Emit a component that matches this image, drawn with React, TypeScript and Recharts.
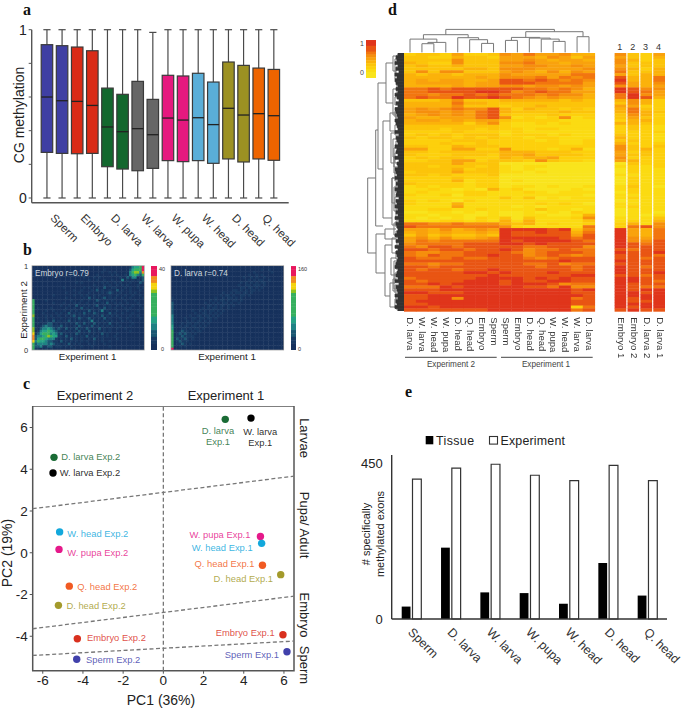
import {
  Bar,
  BarChart,
  ComposedChart,
  ReferenceArea,
  ReferenceLine,
  Scatter,
  ScatterChart,
  XAxis,
  YAxis,
} from "recharts";

// panel a
const boxTissues = ["Sperm", "Embryo", "D. larva", "W. larva", "W. pupa", "W. head", "D. head", "Q. head"];
const boxQ3 = [0.911, 0.905, 0.897, 0.875, 0.653, 0.616, 0.693, 0.586, 0.729, 0.725, 0.741, 0.689, 0.808, 0.788, 0.772, 0.764];
const boxMedian = [0.6, 0.578, 0.574, 0.55, 0.422, 0.394, 0.412, 0.376, 0.475, 0.463, 0.477, 0.436, 0.533, 0.493, 0.501, 0.489];
const boxQ1 = [0.271, 0.265, 0.263, 0.265, 0.186, 0.172, 0.162, 0.176, 0.222, 0.216, 0.222, 0.206, 0.232, 0.214, 0.232, 0.224];
const boxHigh = [1, 1, 1, 1, 1, 1, 1, 0.984, 1, 1, 1, 1, 1, 1, 1, 1];
const boxLow = [0, 0, 0, 0, 0, 0, 0, 0, 0, 0, 0, 0, 0, 0, 0, 0];
const boxColors = ["#3f3fa3", "#d92b17", "#13682e", "#666666", "#e5197f", "#5aaed8", "#9c9122", "#ee6400"];

// panel b, digit = density level
const embryoGrid = [
  "00000000000 00000000000 00000000000 00000134459",
  "00000000000 00000000010 00000010000 00000245559",
  "00000000000 00000000000 00000100101 00000356638",
  "00000000000 00000100000 00010000010 10010345325",
  "00000000000 00000000010 00101000000 01002133012",
  "00000000000 00000000000 10010010010 00301010102",
  "00000000000 00000010100 00000101001 01000100021",
  "00000000000 00000000000 00100010100 10101000100",
  "00000000000 01000000010 10010020011 00010100101",
  "00000000000 00000100100 01020100100 20100100010",
  "00000000000 00100001000 10000101210 01000101000",
  "00000000100 00000100101 00101000100 10010010010",
  "00000000000 00100000010 20100120101 00100100001",
  "50000100000 00001000100 10021001010 00010001000",
  "50000000100 01000101001 00100102001 01001000100",
  "50000000000 10010020010 10120010100 10100010010",
  "50100001000 00100100201 01001020101 00010100001",
  "50000100100 01001010010 20101301000 10001000100",
  "50001000010 10020101020 10210100201 00100010000",
  "60000101001 00101201010 01010201010 10000100100",
  "50100100100 10010102101 20101020100 01001000010",
  "50010110201 01020101010 13010101010 00100100000",
  "50101122010 10101021020 10201010200 10000010000",
  "50012322111 20100102101 02010101010 01000100000",
  "61023343212 10201020102 10102010100 10010000000",
  "60134454321 01010102010 20101010100 00000100000",
  "71245553431 20101021010 10100201000 10000000000",
  "82334565441 10201010102 01010101001 00000000000",
  "82455433310 10102010100 10200100000 10000000000",
  "73544322110 20101010101 00100100100 00000000000",
  "52333323211 01020101000 10100010000 00000000000",
  "52231122011 10101000100 01000000100 00000000000",
  "51100101000 00000100000 00000000000 00000000000",
];
const larvaGrid = [
  "00000000000 00000000000 00000000000 00000000000",
  "00000000000 00000000000 00000000000 00100100000",
  "00000000000 00000000000 00000000001 00000010000",
  "00000000000 00000000000 00000000100 10100000000",
  "00000000000 00000000000 00000010010 10010000000",
  "00000000000 00000000000 00000000101 01100100000",
  "00000000000 00000000000 00000101010 10110000000",
  "00000000000 00000000000 00001001101 11010000000",
  "00000000000 00000000000 00000110110 10100000000",
  "00000000000 00000000000 00110101011 01000000000",
  "00000000000 00000000010 01011011010 00000000000",
  "00000000000 00000000101 10100110100 00000000000",
  "10000000000 00000010010 11010100000 00000000000",
  "10000000000 00001010110 10110100000 00000000000",
  "20000000000 00100101011 01001000000 00000000000",
  "20000000000 00011010110 10100000000 00000000000",
  "20000000000 01010110100 10000000000 00000000000",
  "20000000100 10101101010 00000000000 00000000000",
  "20000000010 01101010100 00000000000 00000000000",
  "30000001001 10110101000 00000000000 00000000000",
  "30000100110 11011010000 00000000000 00000000000",
  "30000010101 10101000000 00000000000 00000000000",
  "30001011011 01010000000 00000000000 00000000000",
  "40010110110 10100000000 00000000000 00000000000",
  "40001101011 01000000000 00000000000 00000000000",
  "50012110101 10000000000 00000000000 00000000000",
  "50121211010 00000000000 00000000000 00000000000",
  "50112111100 00000000000 00000000000 00000000000",
  "50211210100 00000000000 00000000000 00000000000",
  "50121110000 00000000000 00000000000 00000000000",
  "50112101000 00000000000 00000000000 00000000000",
  "50010100000 00000000000 00000000000 00000000000",
  "90000000000 00000000000 00000000000 00000000000",
];
const densityBar = ["9", "9", "9", "8", "8", "7", "7", "6", "5", "5", "5", "5", "5", "5", "5", "4", "4", "3", "3", "2", "2", "1", "1", "0", "0"];
const densityColors = ["#16315c", "#183a63", "#1b5873", "#1f8284", "#25a285", "#37b05f", "#8fc21f", "#f4d20c", "#f08a1e", "#e8175d"];

// panel c
const pcaNames = [
  "D. larva Exp.1", "W. larva Exp.1", "D. larva Exp.2", "W. larva Exp.2", "W. head Exp.2", "W. pupa Exp.2", "Q. head Exp.2", "D. head Exp.2",
  "Embryo Exp.2", "Sperm Exp.2", "W. pupa Exp.1", "W. head Exp.1", "Q. head Exp.1", "D. head Exp.1", "Embryo Exp.1", "Sperm Exp.1",
];
const pc1 = [3.08, 4.36, -5.44, -5.49, -5.16, -5.19, -4.68, -5.22, -4.28, -4.31, 4.83, 4.89, 4.93, 5.84, 5.95, 6.15];
const pc2 = [6.39, 6.45, 4.57, 3.82, 1.0, 0.16, -1.6, -2.52, -4.12, -5.1, 0.78, 0.45, -0.6, -1.05, -3.93, -4.74];
const pcaColors = ["#1a6b35", "#000000", "#1a6b35", "#000000", "#12a8dc", "#e5198a", "#f15a22", "#a39a2b", "#d9301e", "#4141ab", "#e5198a", "#12a8dc", "#f15a22", "#a39a2b", "#d9301e", "#4141ab"];
const stageLines = [
  [2.11, 3.67],
  [-3.64, -2.08],
  [-4.92, -4.23],
];

// panel d
const expColumns = ["D. larva", "W. larva", "W. head", "W. pupa", "D. head", "Q. head", "Embryo", "Sperm", "Sperm", "Embryo", "D. head", "Q. head", "W. pupa", "W. head", "W. larva", "D. larva"];
const sideColumns = ["Embryo 1", "Embryo 2", "D. larva 2", "D. larva 1"];
const methRows = [
  "2332522365755644", "3322433255546535", "3333633355654554", "4322633366755455", "3433433355665565", "3333344366655556",
  "3636633356546465", "4344344465555577", "4444445466675767", "4545544588787676", "4555545588877775", "4444545566566565",
  "7787888888776764", "7788889986787755", "7767787877767664", "7877988987656554", "3334633344444343", "4444744333333333",
  "4444633323343333", "5656766842433232", "5665657843333433", "4565657832223222", "5445557861212612", "4554545532222111",
  "4444424621121211", "3333333321111111", "3332332322122111", "2222322212111111", "2323233312221211", "3233232322122111",
  "2222333222212112", "2223223222222112", "3322433322222222", "5522552262221241", "3323333344433322", "3222333244533332",
  "2323322243445222", "2233552333263221", "3333533300000000", "3323332310110000", "3333423310100000", "2333533311010000",
  "3323222300000000", "2222322200000000", "2222412201000000", "3222212200000000", "1212212201101001", "1121010412000010",
  "1211122111210111", "2112022111111110", "1111111131301011", "2121021111111111", "2111411111121210", "1111511110101111",
  "1122112111131101", "0011010100101021", "1101100100110014", "1010102130311126", "1112212141411113", "7766766643412112",
  "8777777762111117", "5546456599998936", "4545445498898847", "3534334398888858", "5646445699999878", "5767777798999987",
  "6777788899898888", "7688788888778886", "8878878898677877", "7667788887678887", "7687788988678767", "8777877888767888",
  "8888888888888988", "7767788888778677", "8878888888878878", "8788788988888878", "8888899898889888", "8888888988888899",
  "7888889999898988", "8788899989889988", "8898999989998677", "7779899999887966", "8889999999999989", "9988899999999988",
  "8899999999999998", "8899699999999978", "8999999999999988", "8899999999999988", "9989999999999927", "8888888999999978",
];
const sideRows = [
  "6325", "5324", "6423", "6333", "5333", "6424", "7334", "5344", "8447", "9447", "8546", "6545", "9866", "9875", "7965",
  "7984", "4642", "3642", "5522", "4732", "4743", "3642", "3532", "2442", "4432", "2321", "2321", "2222", "3221", "4221",
  "3321", "4222", "6323", "6342", "5232", "5332", "6222", "5422", "0322", "1212", "0211", "0211", "1111", "0211", "0211",
  "0211", "1310", "1211", "0211", "1111", "1211", "0111", "1111", "1211", "0111", "0110", "0101", "1113", "1214", "2416",
  "2786", "9547", "9547", "9547", "9657", "9668", "9878", "9888", "8788", "9889", "8887", "8878", "9888", "8888", "9878",
  "9888", "9889", "8878", "9988", "9987", "9888", "9877", "9899", "9989", "9999", "9899", "9889", "9999", "9899", "8988",
];
const methScale = ["9", "9", "8", "8", "7", "6", "5", "4", "3", "2", "1", "0", "0"];
const methColors = ["#f9e41d", "#fbdb12", "#fdd00c", "#fcc40a", "#fbb20a", "#f9a20d", "#f68f0c", "#f2760f", "#e95513", "#e0351b"];

// dendrograms: [leaf pos 1, height 1, leaf pos 2, height 2, merge height]
const topTree = [
  [1.5, 0, 2.5, 0, 8.7], [2, 8.7, 3.5, 0, 10], [0.5, 0, 2.75, 10, 13.3], [6.5, 0, 7.5, 0, 9], [5.5, 0, 7, 9, 12.7],
  [4.5, 0, 6.25, 12.7, 14.7], [1.625, 13.3, 5.375, 14.7, 17.7], [8.5, 0, 9.5, 0, 12], [12.5, 0, 13.5, 0, 11], [11.5, 0, 13, 11, 13.3],
  [10.5, 0, 12.25, 13.3, 14.3], [9, 12, 11.375, 14.3, 15], [14.5, 0, 15.5, 0, 15.7], [10.2, 15, 15, 15.7, 20.7], [3.5, 17.7, 12.6, 20.7, 23],
];
const leftTree = [
  [125, 28.3, 200, 28, 36.3], [77, 26, 173, 21, 28.3], [30, 18, 116, 21, 26], [10, 11, 50, 11, 18], [3, 7, 18, 8, 11], [36, 7, 62, 8, 11],
  [68, 14, 165, 12, 21], [60, 9, 78, 9, 14], [125, 10, 172, 8, 12], [80, 9, 110, 10, 13], [125, 9, 150, 9, 12], [95, 7, 120, 7, 10],
  [2, 5, 8, 5, 7], [14, 5, 21, 5, 8], [32, 5, 40, 4, 7], [55, 5, 66, 5, 8], [58, 5, 64, 4, 9], [72, 5, 82, 4, 9], [88, 4, 96, 4, 8],
  [100, 5, 110, 5, 9], [104, 4, 114, 5, 10], [118, 5, 128, 4, 9], [132, 4, 140, 5, 8], [144, 5, 152, 4, 9], [156, 4, 164, 4, 8],
  [168, 4, 174, 4, 8], [178, 4, 184, 4, 8], [188, 5, 195, 4, 7], [198, 4, 206, 5, 8], [209, 4, 216, 4, 8], [220, 5, 228, 4, 9],
  [232, 4, 240, 5, 9], [243, 4, 250, 5, 8], [252, 4, 257, 4, 7], [181, 19, 220, 19, 28], [176, 8, 186, 8, 19], [192, 12, 243, 14, 19],
  [185, 7, 200, 7, 12], [230, 9, 254, 7, 14], [205, 8, 222, 8, 13], [226, 7, 238, 7, 11], [6, 6, 26, 6, 9], [44, 6, 52, 6, 9],
  [86, 6, 104, 6, 11], [134, 6, 158, 6, 10], [170, 6, 182, 6, 10], [208, 6, 236, 6, 10], [246, 6, 255, 6, 9],
];
const leafDepths = "687968597986869758698769876958769786957698796869785879686958767968596876789678695876968796";

// panel e
const exonTissues = ["Sperm", "D. larva", "W. larva", "W. pupa", "W. head", "D. head", "Q. head"];
const exonTissue = [35, 201, 75, 73, 43, 158, 66];
const exonExperiment = [394, 425, 436, 405, 390, 433, 390];

const labelOffsets: Record<string, [number, number, string]> = {
  "D. larva Exp.2": [7.3, -1, "start"],
  "W. larva Exp.2": [6.7, 0, "start"],
  "W. head Exp.2": [7.7, 2.3, "start"],
  "W. pupa Exp.2": [8.3, 3.7, "start"],
  "Q. head Exp.2": [8, 0.3, "start"],
  "D. head Exp.2": [8, 0.7, "start"],
  "Embryo Exp.2": [9.7, -0.7, "start"],
  "Sperm Exp.2": [9.3, 0.3, "start"],
  "W. pupa Exp.1": [-10, -2, "end"],
  "W. head Exp.1": [-9, 4.7, "end"],
  "Q. head Exp.1": [-8, -1.3, "end"],
  "D. head Exp.1": [-7.7, 4, "end"],
  "Embryo Exp.1": [-8.3, -2.3, "end"],
  "Sperm Exp.1": [-8, 2.7, "end"],
};

function At({ x, y, children, blur }: any) {
  return (
    <div style={{ position: "absolute", left: x, top: y, lineHeight: 0, filter: blur ? `blur(${blur}px)` : undefined }}>
      {children}
    </div>
  );
}

function HeatGrid({ rows, colors, width, height, gap = 0, columns, labelHeight = 0 }: any) {
  const grid: string[] = rows.map((r: string) => r.replace(/ /g, ""));
  const nRows = grid.length;
  const nCols = grid[0].length;
  const cells = grid.flatMap((r, y) => [...r].map((c, x) => ({ x: x + 0.5, y: y + 0.5, v: Number(c) })));
  const w = width / nCols;
  const h = height / nRows;
  const cell = (p: any) => (
    <rect x={p.cx - w / 2 + gap / 2} y={p.cy - h / 2} width={w - gap + (gap ? 0 : 0.4)} height={h + 0.4} fill={colors[p.payload.v]} />
  );
  const colTick = ({ x, y, index }: any) => (
    <text transform={`translate(${x - 2.5},${y + 4}) rotate(90)`} fontSize={9.6} fill="#333">
      {columns[index]}
    </text>
  );
  return (
    <ScatterChart width={width + (columns ? 4 : 0)} height={height + labelHeight} margin={{ top: 0, right: columns ? 4 : 0, bottom: 0, left: 0 }}>
      <XAxis
        type="number"
        dataKey="x"
        domain={[0, nCols]}
        hide={!columns}
        height={labelHeight}
        ticks={grid[0].split("").map((_, i) => i + 0.5)}
        interval={0}
        axisLine={false}
        tickLine={false}
        tickSize={0}
        tick={colTick}
      />
      <YAxis type="number" dataKey="y" domain={[0, nRows]} reversed hide />
      <Scatter data={cells} isAnimationActive={false} shape={cell} />
    </ScatterChart>
  );
}

function Dendrogram({ links, width, height, domain, sideways }: any) {
  const paths = links.map(([p1, h1, p2, h2, top]: number[]) => {
    const pts = [[p1, h1], [p1, top], [p2, top], [p2, h2]];
    return pts.map(([p, v]) => (sideways ? { x: v, y: p } : { x: p, y: v }));
  });
  return (
    <ScatterChart width={width} height={height} margin={{ top: 0, right: 0, bottom: 0, left: 0 }}>
      <XAxis type="number" dataKey="x" domain={sideways ? [0, domain[1]] : [0, domain[0]]} reversed={sideways} hide />
      <YAxis type="number" dataKey="y" domain={sideways ? [0, domain[0]] : [0, domain[1]]} reversed={sideways} hide />
      {paths.map((pts: any, i: number) => (
        <Scatter
          key={i}
          data={pts}
          isAnimationActive={false}
          line={{ stroke: "#777", strokeWidth: 1 }}
          lineType="joint"
          shape={() => <g />}
        />
      ))}
    </ScatterChart>
  );
}

function Box(props: any) {
  const { x, y, width, height, payload } = props;
  const perUnit = Math.abs(height) / (payload.q3 - payload.q1);
  const at = (v: number) => y + (payload.q3 - v) * perUnit;
  const mid = x + width / 2;
  const capL = mid - 3.6;
  const capR = mid + 3.6;
  return (
    <g stroke="#3a3a3a" strokeWidth={1.2}>
      <line x1={mid} x2={mid} y1={at(payload.high)} y2={at(payload.low)} stroke="#4a4a4a" />
      <line x1={capL} x2={capR} y1={at(payload.high)} y2={at(payload.high)} stroke="#4a4a4a" />
      <line x1={capL} x2={capR} y1={at(payload.low)} y2={at(payload.low)} stroke="#4a4a4a" />
      <rect x={x} y={y} width={width} height={Math.abs(height)} fill={payload.color} />
      <line x1={x} x2={x + width} y1={at(payload.median)} y2={at(payload.median)} stroke="#222" strokeWidth={1.3} />
    </g>
  );
}

function BoxPanel() {
  const data = boxQ3.map((q3, i) => ({
    id: i,
    q3,
    q1: boxQ1[i],
    median: boxMedian[i],
    high: boxHigh[i],
    low: boxLow[i],
    color: boxColors[Math.floor(i / 2)],
  }));
  const tick = ({ x, y, index }: any) =>
    index % 2 ? null : (
      <text transform={`translate(${x + 3},${y + 8}) rotate(45)`} fontSize={11.5} fill="#333">
        {boxTissues[index / 2]}
      </text>
    );
  return (
    <ComposedChart width={330} height={260} data={data} margin={{ top: 29.7, right: 41.3, bottom: 0, left: 0 }}>
      <XAxis
        dataKey="id"
        interval={0}
        height={57.3}
        padding={{ left: 7.5, right: 7.5 }}
        tickLine={false}
        axisLine={{ stroke: "#555", strokeWidth: 1.4 }}
        tick={tick}
      />
      <YAxis
        width={31.7}
        domain={[-0.028, 1]}
        ticks={[0, 0.2, 0.4, 0.6, 0.8, 1]}
        tickFormatter={(v: number) => (v === 0 || v === 1 ? String(v) : "")}
        tickSize={3}
        tick={{ fontSize: 14, fill: "#222" }}
        tickLine={{ stroke: "#555" }}
        axisLine={{ stroke: "#555", strokeWidth: 1.4 }}
      />
      <Bar dataKey={(d: any) => [d.q1, d.q3]} barSize={11.5} isAnimationActive={false} shape={Box} />
    </ComposedChart>
  );
}

function PcaPoint(props: any) {
  const { cx, cy, payload } = props;
  const offset = labelOffsets[payload.name];
  const [first, second] = payload.name.split(" Exp");
  return (
    <g>
      <circle cx={cx} cy={cy} r={3.7} fill={payload.color} />
      {offset ? (
        <text x={cx + offset[0]} y={cy + offset[1] + 3.2} textAnchor={offset[2]} fontSize={9.4} fill={payload.color} fillOpacity={0.85}>
          {payload.name}
        </text>
      ) : (
        <text textAnchor="middle" fontSize={9.4} fill={payload.color} fillOpacity={0.85}>
          <tspan x={cx + (payload.name[0] === "D" ? -7.3 : 9.3)} y={cy + (payload.name[0] === "D" ? 14.9 : 17.2)}>
            {first}
          </tspan>
          <tspan x={cx + (payload.name[0] === "D" ? -7.3 : 9.3)} y={cy + (payload.name[0] === "D" ? 25.9 : 27.9)}>
            {"Exp" + second}
          </tspan>
        </text>
      )}
    </g>
  );
}

function PcaPanel() {
  const data = pcaNames.map((name, i) => ({ name, x: pc1[i], y: pc2[i], color: pcaColors[i] }));
  const dash = { stroke: "#777", strokeWidth: 1.3, strokeDasharray: "4 2.5" };
  return (
    <ScatterChart width={300} height={305} margin={{ top: 0, right: 6, bottom: 0, left: 0 }}>
      <XAxis
        type="number"
        dataKey="x"
        domain={[-6.5, 6.5]}
        ticks={[-6, -4, -2, 0, 2, 4, 6]}
        height={40.3}
        tickSize={3}
        tick={{ fontSize: 13.5, fill: "#222" }}
        tickLine={{ stroke: "#555" }}
        axisLine={false}
      />
      <YAxis
        type="number"
        dataKey="y"
        width={32.7}
        domain={[-5.65, 7.03]}
        ticks={[-4, -2, 0, 2, 4, 6]}
        tickSize={3}
        tick={{ fontSize: 13.5, fill: "#222" }}
        tickLine={{ stroke: "#555" }}
        axisLine={false}
      />
      <ReferenceLine x={0} {...dash} />
      {stageLines.map(([a, b], i) => (
        <ReferenceLine key={i} segment={[{ x: -6.5, y: a }, { x: 6.5, y: b }]} {...dash} />
      ))}
      <ReferenceArea x1={-6.5} x2={6.5} y1={-5.65} y2={7.03} fill="none" stroke="#555" strokeWidth={1.5} />
      <Scatter data={data} isAnimationActive={false} shape={PcaPoint} />
    </ScatterChart>
  );
}

function LeafBlock() {
  const data = [...leafDepths].map((d, i) => ({ i, depth: Number(d) }));
  return (
    <BarChart layout="vertical" width={14} height={258.3} data={data} barCategoryGap={0} margin={{ top: 0, right: 0, bottom: 0, left: 0 }}>
      <XAxis type="number" domain={[0, 14]} reversed hide />
      <YAxis type="category" dataKey="i" hide />
      <Bar dataKey="depth" fill="#333" stroke="#333" strokeWidth={0.7} isAnimationActive={false} />
    </BarChart>
  );
}

function ExonPanel() {
  const data = exonTissues.map((name, i) => ({ name, tissue: exonTissue[i], experiment: exonExperiment[i] }));
  const tick = ({ x, y, payload }: any) => (
    <text transform={`translate(${x - 4},${y + 6}) rotate(45)`} fontSize={12.4} fill="#333">
      {payload.value}
    </text>
  );
  return (
    <BarChart width={338} height={224} data={data} barSize={8.8} barGap={2} margin={{ top: 0, right: 16, bottom: 0, left: 0 }}>
      <XAxis
        dataKey="name"
        interval={0}
        height={60}
        tickLine={false}
        axisLine={{ stroke: "#333", strokeWidth: 1.4 }}
        tick={tick}
      />
      <YAxis
        width={46.7}
        domain={[0, 462]}
        ticks={[0, 450]}
        tickLine={false}
        tickMargin={3}
        tick={{ fontSize: 13, fill: "#222" }}
        axisLine={{ stroke: "#333", strokeWidth: 1.4 }}
      />
      <Bar dataKey="tissue" fill="#000" isAnimationActive={false} />
      <Bar dataKey="experiment" fill="#fff" stroke="#333" strokeWidth={1.2} isAnimationActive={false} />
    </BarChart>
  );
}

function Annotations() {
  const serif = { fontFamily: "Liberation Serif", fontWeight: 700, fontSize: 16, fill: "#111" };
  const side = (label: string, y: number) => (
    <text transform={`translate(300,${y}) rotate(90)`} textAnchor="middle" fontSize={13} fill="#222">
      {label}
    </text>
  );
  return (
    <svg width={685} height={710} style={{ position: "absolute", left: 0, top: 0, pointerEvents: "none" }}>
      <text x={23} y={15} {...serif}>a</text>
      <text x={23} y={255} {...serif}>b</text>
      <text x={23} y={389} {...serif}>c</text>
      <text x={388} y={15} {...serif}>d</text>
      <text x={405} y={397} {...serif}>e</text>

      <text transform="translate(24,115) rotate(-90)" textAnchor="middle" fontSize={14} fill="#222">CG methylation</text>

      <rect x={32} y={265.7} width={112.3} height={84.3} fill="none" stroke="#999" strokeWidth={0.7} />
      <rect x={171} y={265.7} width={112.7} height={84.3} fill="none" stroke="#999" strokeWidth={0.7} />
      <text x={35} y={276} fontSize={8.2} fill="#cfd8de">Embryo  r=0.79</text>
      <text x={174} y={276} fontSize={8.2} fill="#cfd8de">D. larva  r=0.74</text>
      <text x={24} y={269} fontSize={7.5} fill="#333">1</text>
      <text x={24} y={353} fontSize={7.5} fill="#333">0</text>
      <text x={159} y={271} fontSize={5.5} fill="#333">40</text>
      <text x={161} y={351} fontSize={5.5} fill="#333">0</text>
      <text x={298} y={271} fontSize={5.5} fill="#333">160</text>
      <text x={298} y={351} fontSize={5.5} fill="#333">0</text>
      <text transform="translate(26.5,310) rotate(-90)" textAnchor="middle" fontSize={9.8} fill="#222">Experiment 2</text>
      <text x={87.6} y={360} textAnchor="middle" fontSize={9.8} fill="#222">Experiment 1</text>
      <text x={227} y={360} textAnchor="middle" fontSize={9.8} fill="#222">Experiment 1</text>

      <text x={95} y={400} textAnchor="middle" fontSize={13} fill="#222">Experiment 2</text>
      <text x={226} y={400} textAnchor="middle" fontSize={13} fill="#222">Experiment 1</text>
      <text x={161} y={705} textAnchor="middle" fontSize={14} fill="#222">PC1 (36%)</text>
      <text transform="translate(12,553) rotate(-90)" textAnchor="middle" fontSize={14} fill="#222">PC2 (19%)</text>
      {side("Larvae", 438)}
      {side("Pupa/ Adult", 525)}
      {side("Embryo", 615)}
      {side("Sperm", 665)}

      <text x={360} y={46} fontSize={7} fill="#444">1</text>
      <text x={360} y={75} fontSize={7} fill="#444">0</text>
      {["1", "2", "3", "4"].map((n, i) => (
        <text key={n} x={619.7 + i * 12.95} y={50} textAnchor="middle" fontSize={9} fill="#333">{n}</text>
      ))}
      <line x1={405} x2={496.7} y1={357.3} y2={357.3} stroke="#444" strokeWidth={1} />
      <line x1={501} x2={592.7} y1={357.3} y2={357.3} stroke="#444" strokeWidth={1} />
      <text x={451} y={367} textAnchor="middle" fontSize={8.2} fill="#444">Experiment 2</text>
      <text x={546} y={367} textAnchor="middle" fontSize={8.2} fill="#444">Experiment 1</text>

      <rect x={425.7} y={436} width={7.6} height={8.3} fill="#000" />
      <text x={436} y={445} fontSize={12.4} letterSpacing={0.4} fill="#222">Tissue</text>
      <rect x={489.5} y={436.5} width={8} height={7.6} fill="#fff" stroke="#333" strokeWidth={1.1} />
      <text x={500.5} y={445} fontSize={12.4} letterSpacing={0.2} fill="#222">Experiment</text>
      <text transform="translate(370,534) rotate(-90)" textAnchor="middle" fontSize={11} fill="#222"># specifically</text>
      <text transform="translate(384,534) rotate(-90)" textAnchor="middle" fontSize={11} fill="#222">methylated exons</text>
    </svg>
  );
}

export default function App() {
  return (
    <div style={{ position: "absolute", left: 0, top: 0, width: 685, height: 710, overflow: "hidden", background: "#fff", fontFamily: "Liberation Sans, Arial, sans-serif" }}>
      <At x={0} y={0}><BoxPanel /></At>
      <At x={32} y={265.7} blur={0.5}><HeatGrid rows={embryoGrid} colors={densityColors} width={112.3} height={84.3} /></At>
      <At x={171} y={265.7} blur={0.5}><HeatGrid rows={larvaGrid} colors={densityColors} width={112.7} height={84.3} /></At>
      <At x={151} y={265.7}><HeatGrid rows={densityBar} colors={densityColors} width={6} height={84.3} /></At>
      <At x={290.7} y={265.7}><HeatGrid rows={densityBar} colors={densityColors} width={5.6} height={84.3} /></At>
      <At x={0} y={405.7}><PcaPanel /></At>
      <At x={366} y={40}><HeatGrid rows={methScale} colors={methColors} width={9.7} height={37.7} /></At>
      <At x={404} y={28.3}><Dendrogram links={topTree} width={191} height={24.4} domain={[16, 24.4]} /></At>
      <At x={360} y={52.7}><Dendrogram links={leftTree} width={44} height={258.3} domain={[258.3, 44]} sideways /></At>
      <At x={390} y={52.7}><LeafBlock /></At>
      <At x={404} y={52.7} blur={0.35}><HeatGrid rows={methRows} colors={methColors} width={190.7} height={258.3} columns={expColumns} labelHeight={60} /></At>
      <At x={613.7} y={52.7} blur={0.3}><HeatGrid rows={sideRows} colors={methColors} width={51.6} height={258.3} gap={1.2} columns={sideColumns} labelHeight={60} /></At>
      <At x={345} y={454.7}><ExonPanel /></At>
      <Annotations />
    </div>
  );
}
